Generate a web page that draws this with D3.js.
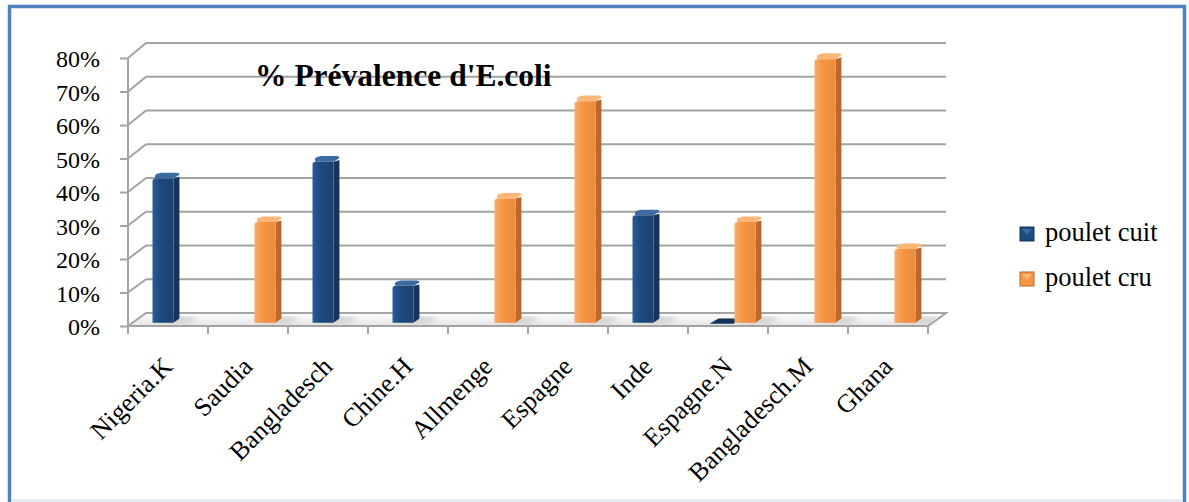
<!DOCTYPE html>
<html>
    <head>
        <meta charset="utf-8">
        <title>Prévalence E.coli</title>
        <script src="https://d3js.org/d3.v7.min.js"></script>
        <style>
         body { margin: 0; background: #fff; }
         svg { display: block; }
         svg text { font-family: "Liberation Serif", "Times New Roman", serif !important; }
        </style>
    </head>
    <body>
        <svg width="1189" height="502"></svg>
        <script>
         // data
         const categories = ["Nigeria.K", "Saudia", "Bangladesch", "Chine.H", "Allmenge",
                             "Espagne", "Inde", "Espagne.N", "Bangladesch.M", "Ghana"];
         const seriesNames = ["poulet cuit", "poulet cru"];
         const pouletCuit = [0.43, null, 0.48, 0.11, null, null, 0.32, 0, null, null];
         const pouletCru = [null, 0.30, null, null, 0.37, 0.66, null, 0.30, 0.785, 0.22];
         const yTicks = [0, 0.1, 0.2, 0.3, 0.4, 0.5, 0.6, 0.7, 0.8];
         const chartTitle = "% Prévalence d'E.coli";

         const serif = "Liberation Serif";
         const svg = d3.select("svg");

         const colors = {
             "poulet cuit": {front: ["#2d5b97", "#1f4a80", "#1b416f"], side: "#15355b", top: "#3d6aa3"},
             "poulet cru": {front: ["#fbab66", "#f79646", "#ea8a3d"], side: "#b8692b", top: "#fbb777"}
         };

         // front plane and back wall scales
         const yFront = d3.scaleLinear().domain([0, 0.8]).range([326, 58]);
         const yBack = d3.scaleLinear().domain([0, 0.8]).range([313, 43]);
         const depthX = 18;
         const x = d3.scaleBand().domain(categories).range([128, 928]).paddingInner(0);
         const sub = d3.scaleBand().domain(seriesNames).range([20, 64]);

         const yAt = (v, f) => yFront(v) * (1 - f) + yBack(v) * f;
         const xAt = (px, f) => px + depthX * f;

         const defs = svg.append("defs");
         seriesNames.forEach((s, i) => {
             const g = defs.append("linearGradient").attr("id", "grad" + i)
                 .attr("x1", 0).attr("x2", 1).attr("y1", 0).attr("y2", 0);
             g.append("stop").attr("offset", "0%").attr("stop-color", colors[s].front[0]);
             g.append("stop").attr("offset", "35%").attr("stop-color", colors[s].front[1]);
             g.append("stop").attr("offset", "100%").attr("stop-color", colors[s].front[2]);
         });
         const fl = defs.append("linearGradient").attr("id", "floorGrad")
             .attr("x1", 0).attr("x2", 0).attr("y1", 0).attr("y2", 1);
         fl.append("stop").attr("offset", "0%").attr("stop-color", "#ffffff");
         fl.append("stop").attr("offset", "100%").attr("stop-color", "#e4e4e4");
         defs.append("filter").attr("id", "blur").attr("x", "-50%").attr("width", "200%")
             .append("feGaussianBlur").attr("stdDeviation", 3);

         // frame
         svg.append("rect").attr("x", 9.5).attr("y", 6.5).attr("width", 1175).attr("height", 520)
            .attr("fill", "#fff").attr("stroke", "#4f81bd").attr("stroke-width", 3.5);
         svg.append("line").attr("x1", 11).attr("x2", 1183).attr("y1", 500.5).attr("y2", 500.5)
            .attr("stroke", "#dde5ee").attr("stroke-width", 2);

         const grid = svg.append("g").attr("stroke", "#a3a3a3").attr("stroke-width", 2).attr("fill", "none");
         const x0 = x.range()[0], x1 = x.range()[1];

         // back wall gridlines + side diagonals
         yTicks.filter(t => t > 0).forEach(t => {
             grid.append("line").attr("x1", xAt(x0, 1)).attr("x2", xAt(x1, 1))
                 .attr("y1", yBack(t)).attr("y2", yBack(t));
             grid.append("line").attr("x1", x0).attr("x2", xAt(x0, 1))
                 .attr("y1", yFront(t)).attr("y2", yBack(t));
         });

         // floor
         svg.append("path")
            .attr("d", `M${x0},${yFront(0)}L${xAt(x0, 1)},${yBack(0)}L${xAt(x1, 1)},${yBack(0)}L${x1},${yFront(0)}Z`)
            .attr("fill", "url(#floorGrad)").attr("stroke", "#a3a3a3").attr("stroke-width", 2);

         // y axis
         const yAxis = svg.append("g").attr("transform", `translate(${x0},0)`)
            .call(d3.axisLeft(yFront).tickValues(yTicks).tickSize(8).tickPadding(20).tickFormat(d3.format(".0%")))
            .attr("font-family", serif).attr("font-size", 24);
         yAxis.select(".domain").attr("stroke", "#a3a3a3").attr("stroke-width", 2).attr("d", `M0,${yFront(0.8)}V${yFront(0)}`);
         yAxis.selectAll(".tick line").attr("stroke", "#a3a3a3").attr("stroke-width", 2);
         yAxis.selectAll(".tick text").attr("fill", "#000").attr("dy", "0.36em");

         // x ticks at category boundaries
         const bounds = categories.map(c => x(c)).concat([x1]);
         svg.append("g").selectAll("line").data(bounds).join("line")
            .attr("x1", d => d).attr("x2", d => d)
            .attr("y1", yFront(0)).attr("y2", yFront(0) + 8)
            .attr("stroke", "#a3a3a3").attr("stroke-width", 2);

         // x labels
         svg.append("g").attr("font-size", 26)
            .selectAll("text").data(categories).join("text")
            .attr("transform", d => `translate(${x(d) + x.bandwidth() / 2 + 6},${yFront(0) + 42}) rotate(-45)`)
            .attr("text-anchor", "end")
            .text(d => d);

         // bars
         const f0 = 0.25, f1 = 0.58;
         const barW = 21;
         const bars = [];
         categories.forEach((c, i) => {
             [pouletCuit[i], pouletCru[i]].forEach((v, si) => {
                 if (v === null) return;
                 bars.push({cat: c, s: seriesNames[si], si: si, v: v});
             });
         });

         const shadows = svg.append("g").attr("filter", "url(#blur)");
         bars.forEach(b => {
             const bx = xAt(x(b.cat) + sub(b.s), f0);
             const yb = yAt(0, f0);
             if (b.v > 0) {
                 shadows.append("path")
                    .attr("d", `M${bx + barW},${yb - 6}L${bx + barW + 22},${yb - 6}L${bx + barW + 18},${yb}L${bx},${yb + 1}Z`)
                    .attr("fill", "#bbbbbb").attr("opacity", 0.7);
             }
         });

         const barG = svg.append("g");
         bars.forEach(b => {
             const c = colors[b.s];
             const bx = xAt(x(b.cat) + sub(b.s), f0);
             const yb = yAt(0, f0);
             const yt = yAt(b.v, f0);
             const dx = depthX * (f1 - f0);
             const ybk = yAt(0, f1), ytk = yAt(b.v, f1);
             const g = barG.append("g");
             if (b.v === 0) {
                 g.append("path")
                  .attr("d", `M${bx - 3},${yb + 1}L${bx + barW},${yb + 1}L${bx + barW + dx},${ybk}L${bx + dx},${ybk}Z`)
                  .attr("fill", "#13335a");
                 return;
             }
             const r = 3;
             // side face
             g.append("path")
              .attr("d", `M${bx + barW},${yt}L${bx + barW + dx},${ytk + r}L${bx + barW + dx},${ybk}L${bx + barW},${yb}Z`)
              .attr("fill", c.side);
             // top face
             g.append("path")
              .attr("d", `M${bx + r},${yt}L${bx + barW},${yt}L${bx + barW + dx},${ytk + 1}Q${bx + barW + dx},${ytk - 1} ${bx + barW + dx - 3},${ytk - 1}L${bx + dx + r},${ytk - 1}Q${bx},${ytk} ${bx + r},${yt}Z`)
              .attr("fill", c.top);
             // front face
             g.append("path")
              .attr("d", `M${bx},${yb}L${bx},${yt + r}Q${bx},${yt} ${bx + r},${yt}L${bx + barW},${yt}L${bx + barW},${yb}Z`)
              .attr("fill", `url(#grad${b.si})`);
         });

         // title
         svg.append("text").attr("x", 255).attr("y", 86)
            .attr("font-size", 31.5).attr("font-weight", "bold")
            .text(chartTitle);

         // legend
         const legend = svg.append("g").selectAll("g").data(seriesNames).join("g")
            .attr("transform", (d, i) => `translate(1020,${227 + i * 45})`);
         legend.append("rect").attr("width", 14).attr("height", 14)
            .attr("fill", d => colors[d].front[1]).attr("stroke", d => colors[d].side).attr("stroke-width", 1);
         legend.append("path").attr("d", "M2,2L12,2L7,8Z").attr("fill", d => colors[d].top);
         legend.append("text").attr("x", 25).attr("y", 14)
            .attr("font-size", 26.5)
            .text(d => d);
        </script>
    </body>
</html>
